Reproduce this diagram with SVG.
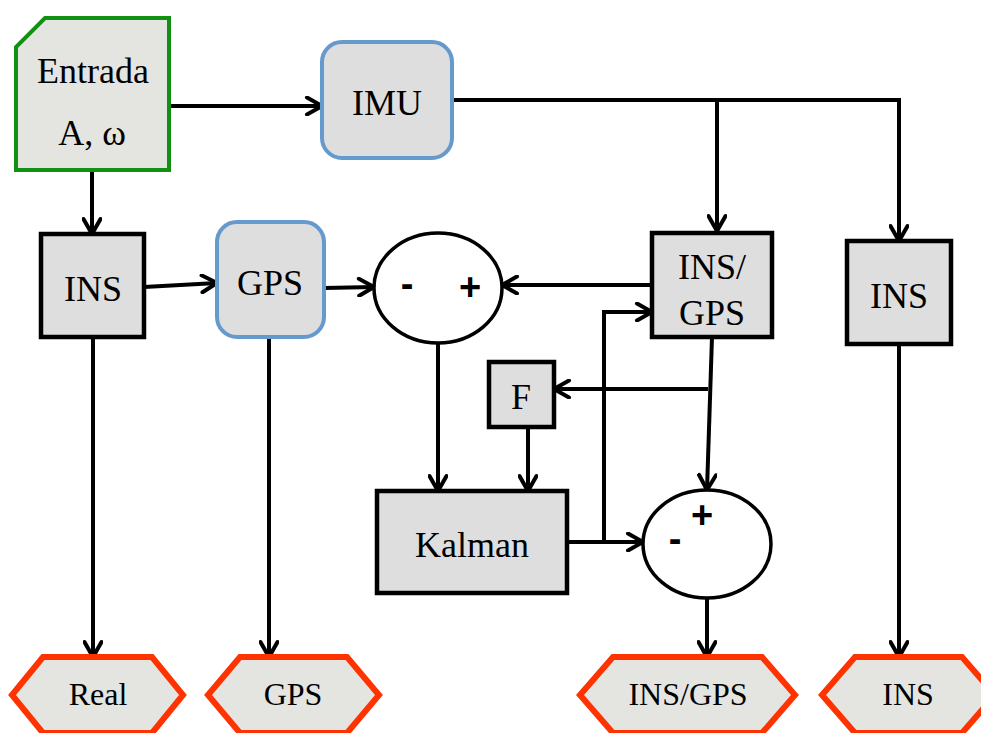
<svg xmlns="http://www.w3.org/2000/svg" width="981" height="733" viewBox="0 0 981 733">
<style>
.box{fill:#dedede;stroke:#000;stroke-width:4.5}
.rbox{fill:#dedede;stroke:#6699cc;stroke-width:4}
.hex{fill:#e4e4e0;stroke:#ff3300;stroke-width:6}
.sum{fill:#fff;stroke:#000;stroke-width:3.5}
.t{font-family:"Liberation Serif",serif;font-size:36px;fill:#000;text-anchor:middle}
.h{font-family:"Liberation Serif",serif;font-size:32px;fill:#000;text-anchor:middle}
.s{font-family:"Liberation Sans",sans-serif;font-size:38px;font-weight:bold;fill:#000;text-anchor:middle}
.c{fill:none;stroke:#000;stroke-width:4;marker-end:url(#a)}
</style>
<defs>
<marker id="a" markerUnits="userSpaceOnUse" viewBox="0 0 20 20" refX="18" refY="10" markerWidth="20" markerHeight="20" orient="auto">
<path d="M3,1.5 L18,10 L3,18.5" fill="none" stroke="#000" stroke-width="4" stroke-linejoin="round" stroke-linecap="round"/>
</marker>
</defs>
<g id="connectors">
<path class="c" d="M171,106 H322"/>
<path class="c" d="M452,100 H717 V231"/>
<path class="c" d="M717,100 H899 V241"/>
<path class="c" d="M92,172 V234"/>
<path class="c" d="M144,287 L217,283"/>
<path class="c" d="M324,288 L374,287"/>
<path class="c" d="M652,285 H502"/>
<path class="c" d="M438,344 V491"/>
<path class="c" d="M528,427 V491"/>
<path class="c" d="M712,337 L707,490"/>
<path class="c" d="M708,389 H554"/>
<path class="c" d="M567,542 H643"/>
<path class="c" d="M604,542 V312 H652"/>
<path class="c" d="M707,598 V657"/>
<path class="c" d="M93,337 V657"/>
<path class="c" d="M269,337 V657"/>
<path class="c" d="M899,344 V657"/>
</g>
<g id="entrada">
<polygon points="45,18 169,18 169,170 16,170 16,47" fill="#e4e4e0" stroke="#119111" stroke-width="4"/>
<text class="t" x="93" y="83">Entrada</text>
<text class="t" x="92" y="145">A, ω</text>
</g>
<g id="imu">
<rect class="rbox" x="322" y="42" width="130" height="116" rx="20"/>
<text class="t" x="387" y="115">IMU</text>
</g>
<g id="ins1">
<rect class="box" x="41" y="234" width="103" height="103"/>
<text class="t" x="93" y="301">INS</text>
</g>
<g id="gps">
<rect class="rbox" x="217" y="222" width="107" height="115" rx="20"/>
<text class="t" x="270" y="295">GPS</text>
</g>
<g id="sum1">
<ellipse class="sum" cx="438" cy="288" rx="64" ry="55"/>
<text class="s" x="407" y="297">-</text>
<text class="s" x="470" y="300">+</text>
</g>
<g id="insgps">
<rect class="box" x="652" y="233" width="120" height="104"/>
<text class="t" x="712" y="279">INS/</text>
<text class="t" x="712" y="325">GPS</text>
</g>
<g id="ins2">
<rect class="box" x="847" y="241" width="104" height="103"/>
<text class="t" x="899" y="308">INS</text>
</g>
<g id="f">
<rect class="box" x="489" y="362" width="65" height="65"/>
<text class="t" x="521" y="409">F</text>
</g>
<g id="kalman">
<rect class="box" x="377" y="491" width="190" height="102"/>
<text class="t" x="472" y="557">Kalman</text>
</g>
<g id="sum2">
<ellipse class="sum" cx="707" cy="544" rx="64" ry="54"/>
<text class="s" x="702" y="528">+</text>
<text class="s" x="675" y="552">-</text>
</g>
<g id="real">
<polygon class="hex" points="12,695 43,657 152,657 183,695 152,733 43,733"/>
<text class="h" x="98" y="705">Real</text>
</g>
<g id="gpsout">
<polygon class="hex" points="208,695 240,657 347,657 379,695 347,733 240,733"/>
<text class="h" x="293" y="705">GPS</text>
</g>
<g id="insgpsout">
<polygon class="hex" points="580,695 613,657 762,657 795,695 762,733 613,733"/>
<text class="h" x="688" y="705">INS/GPS</text>
</g>
<g id="insout">
<polygon class="hex" points="822,695 855,657 962,657 995,695 962,733 855,733"/>
<text class="h" x="908" y="705">INS</text>
</g>
</svg>
